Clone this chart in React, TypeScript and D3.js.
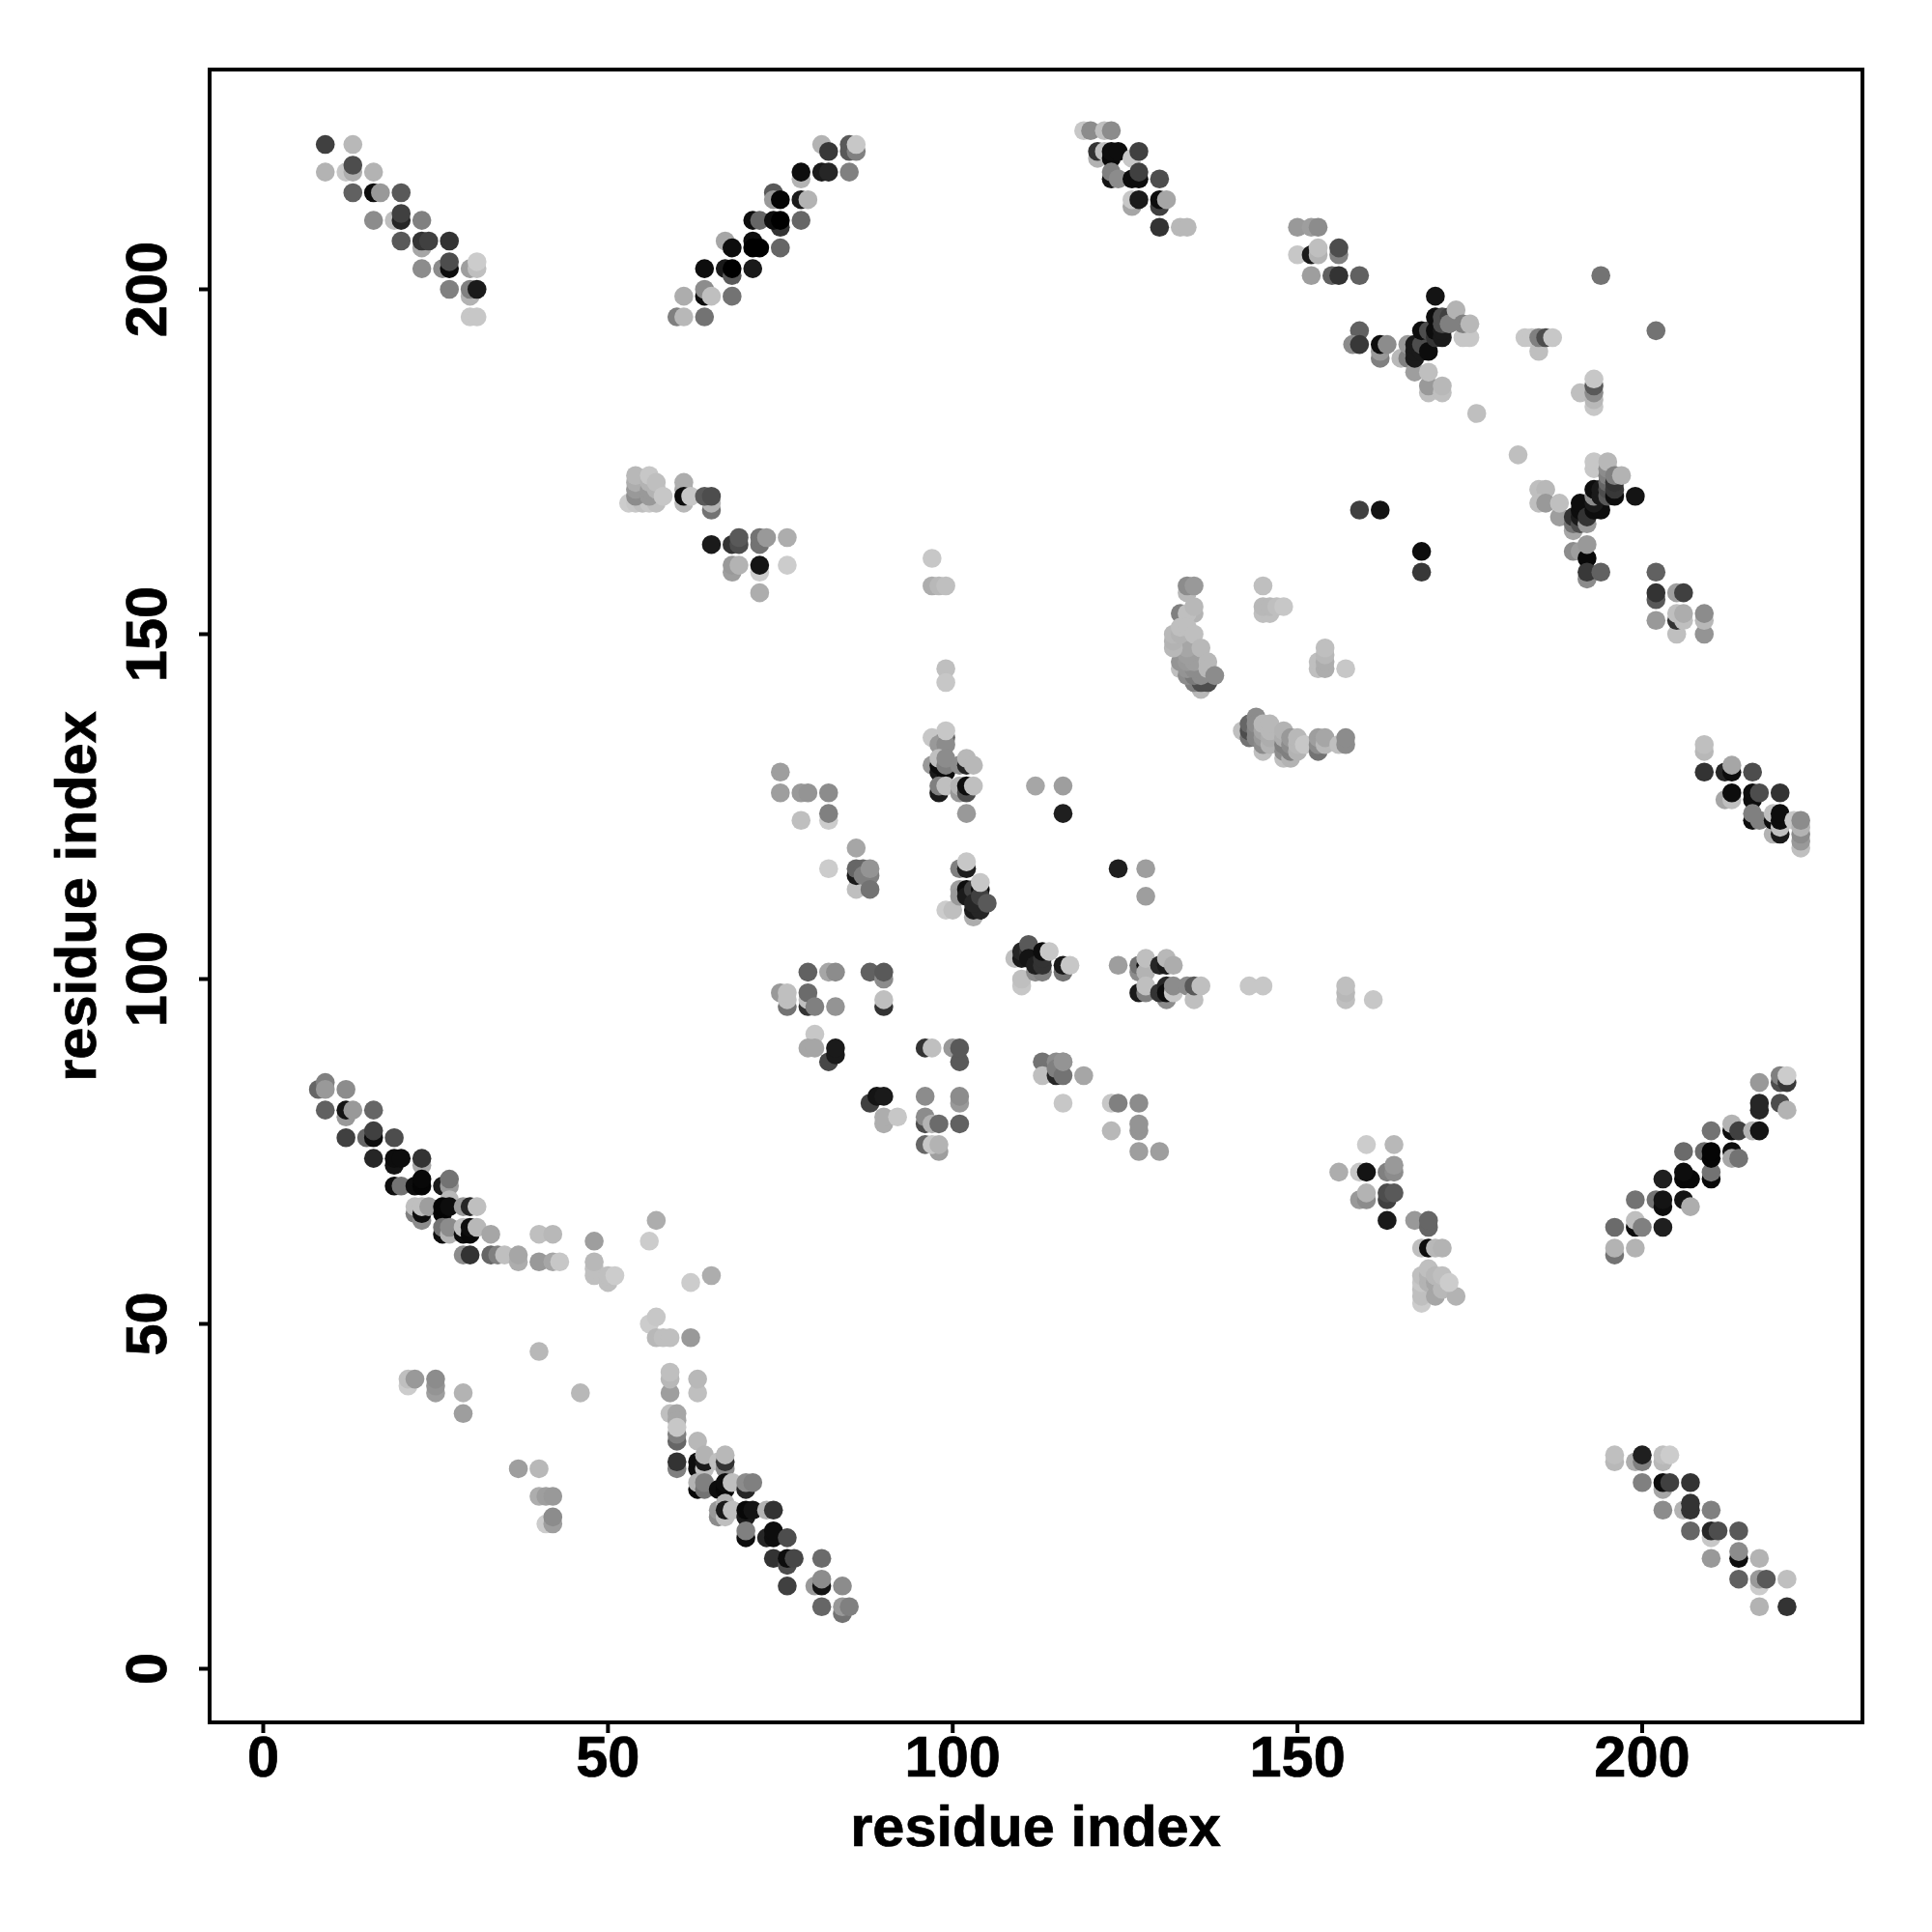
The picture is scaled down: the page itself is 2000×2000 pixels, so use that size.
import React from "react";
import * as d3 from "d3";

type P = [number, number, number];
const xTicks = [0, 50, 100, 150, 200];
const yTicks = [0, 50, 100, 150, 200];
const axisTitle = "residue index";

const topLeftDiag: P[] = [[9,221,.25],[9,217,.7],[13,221,.72],[12,217,.78],[13,217,.68],[13,218,.3],[13,214,.38],[16,217,.7],[16,214,.05],[17,214,.6],[20,214,.35],[16,210,.55],[19,210,.75],[20,210,.15],[20,211,.25],[23,210,.5],[20,207,.35],[23,206,.65],[23,207,.2],[24,207,.25],[27,207,.2],[23,203,.55],[26,203,.55],[27,203,.05],[27,204,.3],[27,200,.5],[30,203,.62],[30,199,.7],[30,200,.5],[31,203,.75],[31,204,.8],[31,200,.1],[30,196,.78],[31,196,.78]];
const topMidDiag: P[] = [[60,196,.5],[61,196,.72],[64,196,.45],[61,199,.68],[64,199,.05],[64,200,.55],[65,199,.75],[68,199,.45],[64,203,.05],[67,203,.1],[68,202,.35],[68,203,0],[71,203,.1],[67,207,.65],[68,206,.05],[71,207,.05],[71,206,0],[72,206,0],[75,206,.4],[71,210,.05],[72,210,.4],[75,209,.2],[74,210,.05],[75,210,0],[78,210,.4],[74,214,.35],[74,213,.6],[75,213,.02],[78,216,.7],[78,213,.1],[79,213,.7],[78,217,.05],[81,217,.1],[82,217,.15],[85,217,.5],[81,221,.7],[82,220,.22],[85,221,.35],[85,220,.35],[86,220,.5],[86,221,.78]];
const upperLeftBlob: P[] = [[53,169,.8],[54,169,.78],[55,169,.75],[56,169,.78],[57,169,.75],[54,170,.55],[54,171,.6],[54,172,.68],[54,173,.72],[56,170,.6],[56,171,.6],[56,172,.7],[56,173,.78],[57,171,.7],[57,172,.75],[58,170,.78],[61,169,.72],[61,171,.65],[61,172,.68],[61,170,.05],[62,170,.78],[65,168,.45],[65,169,.7],[64,170,.35],[65,170,.3],[65,163,.1],[68,163,.2],[69,163,.3],[69,164,.35],[72,163,.45],[72,164,.45],[73,164,.6],[76,164,.68],[68,159,.62],[68,160,.6],[69,160,.7],[72,159,.8],[72,160,.08],[72,156,.68],[76,160,.8],[97,161,.78],[97,157,.68],[98,157,.72],[99,157,.75],[99,145,.75],[99,143,.78]];
const centerLeft: P[] = [[75,130,.62],[75,127,.62],[78,127,.6],[79,127,.58],[82,127,.55],[78,123,.75],[82,123,.8],[82,124,.5],[86,119,.65],[82,116,.8],[86,113,.75],[86,115,.1],[86,116,.4],[87,116,.4],[87,115,.5],[88,115,.5],[88,113,.45],[88,116,.58]];
const centerTop: P[] = [[97,135,.78],[99,135,.4],[98,134,.6],[99,134,.55],[99,136,.78],[97,131,.6],[98,130,.1],[98,131,.05],[99,130,.05],[98,132,.75],[99,131,.5],[99,132,.55],[101,131,.55],[102,131,.15],[102,132,.72],[103,131,.72],[98,127,.1],[98,128,.5],[99,128,.75],[101,127,.6],[101,128,.7],[102,127,.3],[102,128,.05],[103,128,.75],[102,124,.6]];
const centerMid: P[] = [[101,116,.5],[102,116,.12],[102,117,.78],[99,110,.8],[100,110,.75],[103,109,.68],[101,113,.62],[101,112,.6],[102,113,.05],[102,112,.1],[103,113,.25],[104,113,.05],[103,110,.1],[104,110,.15],[103,111,.15],[104,112,.25],[105,111,.35],[104,114,.78],[112,128,.65],[116,128,.62],[116,124,.12],[124,116,.12],[128,116,.62],[128,112,.62]];
const centerRow: P[] = [[109,103,.75],[110,99,.78],[110,100,.75],[110,103,.1],[110,104,.15],[111,104,.2],[111,105,.35],[111,103,.08],[112,101,.55],[113,101,.5],[112,102,.12],[113,102,.2],[113,103,.2],[113,104,.05],[114,104,.78],[116,101,.45],[116,102,.1],[117,102,.78],[124,102,.62],[127,101,.55],[127,102,.45],[128,102,.05],[128,101,.7],[128,103,.75],[127,98,.1],[128,98,.5],[128,99,.75],[130,102,.15],[131,102,.1],[131,103,.72],[132,102,.68],[131,97,.55],[130,98,.2],[131,99,.15],[131,98,.05],[132,98,.78],[132,99,.55],[134,99,.55],[135,97,.75],[135,99,.35],[136,99,.75],[143,99,.78],[145,99,.78],[157,97,.75],[157,98,.72],[157,99,.75],[161,97,.78]];
const lowerCenterLeft: P[] = [[79,101,.38],[82,101,.65],[83,101,.55],[88,101,.38],[90,100,.55],[90,101,.35],[75,98,.6],[76,96,.45],[76,97,.75],[76,98,.75],[79,96,.2],[79,97,.75],[79,98,.42],[80,96,.5],[83,96,.58],[90,96,.2],[90,97,.75],[80,92,.78],[79,90,.65],[80,90,.65],[82,88,.28],[83,89,.1],[83,90,.1],[96,90,.2],[97,90,.75],[100,90,.6],[101,88,.35],[101,90,.35],[88,82,.25],[89,83,.08],[90,83,.1],[90,79,.68],[90,80,.68],[92,80,.78],[96,83,.55],[101,82,.6],[101,83,.55],[96,79,.3],[96,80,.55],[97,79,.7],[98,79,.42],[101,79,.38],[96,76,.4],[98,75,.62],[97,76,.78],[98,76,.7]];
const lowerCenterRight: P[] = [[113,88,.45],[115,88,.55],[116,88,.6],[113,86,.75],[115,86,.15],[115,87,.5],[116,86,.45],[116,88,.58],[119,86,.65],[116,82,.78],[123,82,.78],[124,82,.5],[127,82,.55],[127,78,.58],[127,79,.58],[123,78,.72],[127,75,.62],[130,75,.62]];
const arcLeft: P[] = [[134,156,.72],[134,157,.55],[135,157,.6],[133,153,.5],[135,153,.7],[134,153,.75],[135,154,.72],[133,145,.75],[136,142,.72],[135,143,.5],[136,143,.3],[137,143,.3],[133,146,.58],[133,148,.6],[133,149,.62],[134,144,.55],[135,144,.48],[136,144,.55],[134,145,.58],[135,145,.55],[134,146,.6],[135,146,.62],[134,147,.62],[134,148,.65],[132,148,.72],[132,149,.7],[132,150,.72],[133,150,.7],[133,151,.75],[134,151,.75],[135,150,.75],[136,148,.72],[137,146,.72],[137,145,.72],[138,144,.55]];
const arcRightA: P[] = [[145,157,.75],[145,153,.75],[146,153,.75],[145,154,.72],[146,154,.72],[147,154,.75],[148,154,.78],[153,145,.75],[153,146,.75],[154,145,.68],[154,146,.68],[154,147,.72],[154,148,.75],[157,145,.78]];
const arcBottom: P[] = [[142,136,.75],[143,135,.45],[143,136,.3],[143,137,.4],[144,138,.55],[144,135,.52],[144,136,.52],[144,137,.55],[145,133,.75],[145,134,.55],[145,135,.6],[145,136,.65],[145,137,.72],[146,134,.7],[146,135,.68],[146,136,.72],[146,137,.72],[148,132,.75],[148,133,.55],[148,134,.5],[148,135,.68],[148,136,.7],[149,132,.7],[149,133,.5],[149,134,.55],[149,135,.6],[150,133,.7],[150,134,.72],[150,135,.72],[151,134,.78],[153,133,.45],[153,134,.55],[153,135,.62],[154,134,.72],[154,135,.65],[156,134,.75],[157,134,.55],[157,135,.55]];
const upperRightA: P[] = [[119,223,.78],[120,223,.55],[122,223,.75],[123,223,.55],[121,219,.7],[121,220,.2],[122,220,.75],[123,219,.03],[123,220,.05],[124,220,.05],[126,219,.78],[127,220,.25],[123,216,.08],[123,217,.5],[124,216,.55],[126,216,.05],[127,216,.05],[127,217,.25],[130,216,.3],[126,212,.65],[126,213,.78],[127,213,.1],[130,212,.25],[130,213,.05],[131,213,.65],[130,209,.2],[133,209,.72],[134,209,.72],[150,209,.6],[152,209,.62],[153,209,.55],[150,205,.78],[152,205,.1],[153,205,.7],[153,206,.75],[156,205,.5],[156,206,.3],[152,202,.62],[155,202,.38],[156,202,.2],[159,202,.38]];
const upperRightB: P[] = [[170,199,.08],[159,194,.38],[158,192,.55],[159,192,.22],[162,190,.5],[162,191,.6],[162,192,.05],[163,192,.55],[165,190,.72],[166,190,.5],[166,192,.6],[167,188,.62],[167,190,.1],[167,191,.1],[167,192,.1],[168,191,.1],[168,192,.3],[168,194,.05],[169,191,.05],[169,194,.3],[170,193,.2],[170,194,.05],[170,196,.05],[171,193,.1],[171,194,.1],[171,195,.3],[171,196,.3],[172,196,.25],[172,195,.5],[173,197,.7],[174,193,.78],[175,193,.78],[174,195,.5],[175,195,.72],[169,185,.75],[169,186,.6],[171,185,.75],[171,186,.72],[169,188,.75],[176,182,.75],[182,176,.75],[183,193,.78],[184,193,.78],[185,191,.75],[185,193,.5],[186,193,.3],[187,193,.78],[191,185,.75],[193,183,.78],[193,184,.72],[193,185,.55],[193,186,.35],[193,187,.78],[194,202,.45],[202,194,.45],[159,168,.25],[162,168,.08],[168,162,.05],[168,159,.22]];
const rightSideA: P[] = [[185,171,.75],[186,171,.72],[185,169,.75],[186,169,.6],[188,167,.62],[188,169,.75],[190,165,.65],[190,166,.45],[190,167,.2],[191,166,.3],[191,167,.1],[191,168,.05],[191,169,.05],[192,166,.6],[192,167,.2],[193,168,.05],[194,168,.05],[193,169,.1],[193,170,.55],[193,171,.05],[194,170,.1],[194,171,.1],[193,174,.78],[193,175,.78],[195,170,.35],[195,171,.3],[195,172,.4],[195,173,.5],[195,174,.55],[195,175,.72],[196,170,.05],[196,171,.22],[196,172,.2],[196,173,.5],[197,173,.7],[199,170,.08],[190,162,.55],[191,162,.62],[192,161,.03],[192,163,.6],[192,158,.55],[192,159,.22],[194,159,.38]];
const rightSideB: P[] = [[202,159,.38],[202,155,.35],[202,156,.2],[202,152,.6],[205,150,.75],[205,156,.62],[206,156,.25],[205,152,.2],[206,152,.75],[205,153,.75],[206,153,.68],[209,150,.58],[209,152,.72],[209,153,.55],[209,133,.72],[209,134,.75],[209,130,.2],[212,130,.15],[213,130,.05],[213,131,.65],[216,130,.3],[212,126,.65],[213,126,.75],[213,127,.05],[216,126,.05],[216,127,.05],[217,127,.3],[220,127,.2],[216,123,.05],[216,124,.5],[217,123,.5],[219,121,.7],[219,123,.05],[219,124,.75],[220,121,.1],[220,122,.75],[220,123,.05],[220,124,.05],[222,123,.78],[223,119,.75],[223,120,.6],[223,121,.55],[223,122,.7],[223,123,.55]];
const lowerLeftDiag: P[] = [[8,84,.4],[9,85,.5],[9,84,.6],[12,84,.55],[9,81,.38],[12,80,.6],[12,81,.08],[13,81,.6],[16,81,.4],[12,77,.25],[15,77,.4],[16,77,.05],[16,78,.25],[19,77,.3],[16,74,.15],[19,73,.08],[19,74,.05],[20,74,.05],[23,73,.65],[23,74,.2],[19,70,.05],[20,70,.45],[22,70,.05],[23,70,.02],[23,71,.03],[22,66,.5],[23,65,.55],[22,67,.75],[23,66,.05],[23,67,.75],[24,67,.62],[26,70,.1],[27,70,.6],[27,71,.45],[27,68,.72],[26,66,.02],[26,67,.02],[27,67,.05],[29,67,.6],[30,67,.15],[31,67,.75],[26,63,.05],[26,64,.45],[27,63,.7],[27,64,.55],[29,63,.05],[29,64,.75],[30,63,.03],[30,64,.05],[31,64,.72],[33,63,.65],[29,60,.55],[30,60,.2],[33,60,.4],[34,60,.5],[35,60,.75],[37,59,.68],[37,60,.65],[40,63,.75],[42,63,.72],[40,59,.6],[42,59,.65],[43,59,.78],[48,62,.62],[48,57,.75],[48,58,.75],[48,59,.72],[50,56,.75],[50,57,.75],[51,57,.8],[57,65,.68],[56,62,.8],[62,56,.8],[65,57,.68]];
const lowerScatter: P[] = [[56,50,.8],[57,51,.78],[57,48,.72],[58,48,.75],[59,48,.75],[62,48,.6],[40,46,.72],[46,40,.72],[21,41,.8],[21,42,.75],[22,42,.6],[25,40,.62],[25,41,.58],[25,42,.55],[29,40,.7],[29,37,.62],[37,29,.62],[40,29,.72],[40,25,.68],[41,25,.62],[42,25,.6],[41,21,.8],[42,21,.62],[42,22,.55],[59,40,.62],[59,42,.72],[59,43,.75],[63,40,.75],[63,42,.72],[59,37,.75],[60,37,.65]];
const lowerMidDiag: P[] = [[60,36,.65],[60,33,.4],[60,34,.5],[60,35,.78],[63,33,.72],[60,29,.5],[60,30,.2],[63,29,.05],[63,30,.05],[64,29,.75],[64,30,.1],[64,31,.7],[66,30,.75],[67,29,.55],[67,30,.2],[67,31,.72],[63,26,.03],[63,27,.7],[64,26,.45],[64,27,.5],[66,26,.05],[67,26,.03],[67,27,.05],[68,27,.75],[70,26,.15],[70,27,.55],[71,27,.5],[66,22,.55],[66,23,.6],[67,24,.7],[67,22,.75],[67,23,.1],[68,23,.75],[70,22,.1],[70,23,.03],[71,23,.08],[73,23,.7],[74,23,.2],[70,19,.05],[70,20,.5],[73,19,.15],[74,19,.05],[74,20,.05],[76,19,.3],[74,16,.2],[76,15,.3],[76,16,.05],[77,16,.28],[81,16,.42],[76,12,.25],[80,12,.6],[81,12,.08],[81,13,.55],[84,12,.55],[81,9,.4],[84,8,.45],[84,9,.6],[85,9,.5]];
const lowerRightUp: P[] = [[196,60,.45],[196,61,.7],[196,64,.42],[199,61,.7],[199,64,.05],[199,65,.75],[200,64,.5],[199,68,.45],[203,64,.12],[202,68,.45],[203,67,.05],[203,68,.08],[206,68,.08],[207,67,.68],[203,71,.12],[206,71,.03],[207,71,.03],[206,72,.05],[206,75,.42],[210,71,.03],[210,72,.45],[209,75,.42],[210,74,.02],[210,75,.02],[213,75,.05],[213,74,.65],[214,74,.45],[210,78,.45],[213,78,.05],[213,79,.7],[214,78,.25],[216,78,.7],[217,78,.08],[217,81,.15],[217,82,.15],[220,82,.3],[221,81,.7],[217,85,.6],[220,85,.3],[220,86,.5],[221,85,.22],[221,86,.8]];
const lowerMidB: P[] = [[156,72,.68],[159,72,.78],[160,72,.08],[160,76,.8],[164,76,.72],[163,72,.5],[164,72,.55],[164,73,.6],[159,68,.6],[160,68,.55],[160,69,.7],[163,68,.25],[163,69,.3],[164,69,.35],[163,65,.1],[167,65,.6],[169,64,.4],[169,65,.4],[168,61,.75],[169,61,.05],[170,61,.72],[171,61,.7],[168,53,.8],[168,54,.75],[168,55,.75],[168,56,.78],[168,57,.75],[169,56,.7],[169,57,.7],[169,58,.75],[170,54,.65],[170,56,.65],[170,57,.72],[171,55,.72],[171,57,.75],[173,54,.7],[172,56,.8]];
const lowerRightDown: P[] = [[196,30,.72],[196,31,.75],[199,30,.68],[200,30,.5],[200,31,.12],[200,27,.5],[203,30,.72],[203,31,.75],[204,31,.8],[203,26,.65],[203,27,.05],[204,27,.25],[207,27,.2],[203,23,.55],[206,23,.7],[207,23,.2],[207,24,.2],[210,23,.5],[207,20,.4],[210,19,.78],[210,20,.15],[211,20,.3],[214,20,.35],[210,16,.6],[214,16,.05],[214,17,.55],[217,16,.7],[214,13,.38],[217,12,.8],[217,13,.6],[218,13,.35],[221,13,.75],[217,9,.7],[221,9,.2]];

const allSeries: P[][] = [topLeftDiag, topMidDiag, upperLeftBlob, centerLeft, centerTop, centerMid, centerRow, lowerCenterLeft, lowerCenterRight, arcLeft, arcRightA, arcBottom, upperRightA, upperRightB, rightSideA, rightSideB, lowerLeftDiag, lowerScatter, lowerMidDiag, lowerRightUp, lowerMidB, lowerRightDown];

const font = "'Liberation Sans', Arial, sans-serif";

export default function App() {
  const x = d3.scaleLinear().domain([0, 200]).range([272.5, 1700]);
  const y = d3.scaleLinear().domain([0, 200]).range([1727.5, 299.5]);
  const points = allSeries.flat();
  const box = { l: 217, r: 1928, t: 72, b: 1783 };
  const fs = 59.5;
  const textStyle = { stroke: "#000", strokeWidth: 0.7 };
  return (
    <svg width={2000} height={2000} style={{ position: "absolute", left: 0, top: 0, background: "#fff" }}>
      {points.map((p, i) => (
        <circle key={i} cx={x(p[0])} cy={y(p[1])} r={9.8} fill={d3.rgb(p[2] * 255, p[2] * 255, p[2] * 255).formatHex()} />
      ))}
      <rect x={box.l} y={box.t} width={box.r - box.l} height={box.b - box.t} fill="none" stroke="#000" strokeWidth={4} />
      {xTicks.map((t) => (
        <g key={t}>
          <line x1={x(t)} x2={x(t)} y1={box.b} y2={box.b + 11} stroke="#000" strokeWidth={4} />
          <text x={x(t)} y={1839} textAnchor="middle" fontFamily={font} fontWeight="bold" fontSize={fs} style={textStyle}>{t}</text>
        </g>
      ))}
      {yTicks.map((t) => (
        <g key={t}>
          <line x1={box.l - 11} x2={box.l} y1={y(t)} y2={y(t)} stroke="#000" strokeWidth={4} />
          <text transform={`translate(172,${y(t)}) rotate(-90)`} textAnchor="middle" fontFamily={font} fontWeight="bold" fontSize={fs} style={textStyle}>{t}</text>
        </g>
      ))}
      <text x={1072} y={1911} textAnchor="middle" fontFamily={font} fontWeight="bold" fontSize={fs} style={textStyle}>{axisTitle}</text>
      <text transform={`translate(99,928) rotate(-90)`} textAnchor="middle" fontFamily={font} fontWeight="bold" fontSize={fs} style={textStyle}>{axisTitle}</text>
    </svg>
  );
}
